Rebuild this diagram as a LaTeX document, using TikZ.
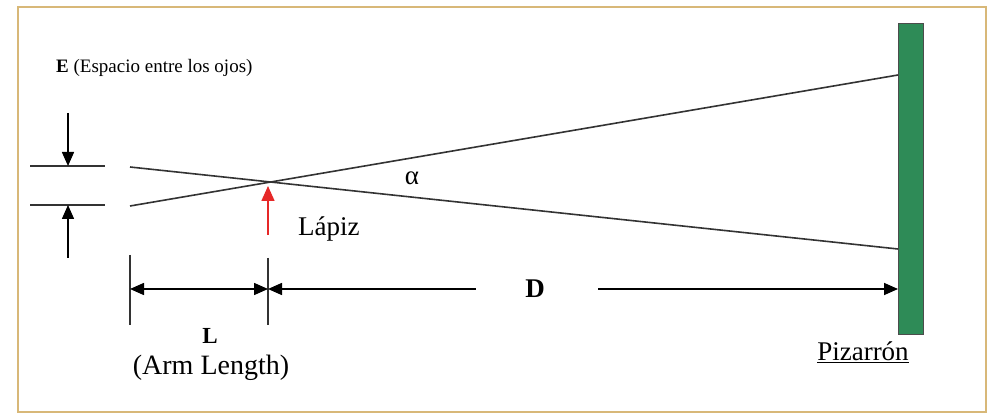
\documentclass[tikz,border=0pt]{standalone}
\usepackage{fontspec}
\setmainfont{Liberation Serif}
\usetikzlibrary{arrows.meta}
\definecolor{frame}{HTML}{D8B878}
\definecolor{board}{HTML}{2E8B57}
\definecolor{ink}{HTML}{333333}
\newcommand{\fs}[1]{\fontsize{#1}{#1}\selectfont}
\tikzset{
  x=1pt,y=-1pt,
  ray/.style={draw=ink, line width=1.6pt},
  dim/.style={draw=black, line width=1.6pt},
  tick/.style={draw=ink, line width=1.3pt},
  tip/.style={-{Triangle[length=14pt,width=12pt]}},
  lbl/.style={inner sep=0pt},
}
\begin{document}
\begin{tikzpicture}
\useasboundingbox (0,0) rectangle (994,414);
\fill[white] (0,0) rectangle (994,414);
\draw[frame, line width=2pt, fill=white] (18,7) rectangle (986,412);

% board
\node[draw=black!70, fill=board, line width=1pt, minimum width=25pt, minimum height=311pt, inner sep=0pt, anchor=north west] (board) at (898,23) {};

% rays
\coordinate (t0) at (130,167);
\coordinate (t1) at (898,75);
\coordinate (b0) at (130,206);
\coordinate (b1) at (898,249);
\draw[ray] (t0) -- (b1);
\draw[ray] (b0) -- (t1);

% eye ticks
\coordinate (e1a) at (30,166); \coordinate (e1b) at (105,166);
\coordinate (e2a) at (30,205); \coordinate (e2b) at (105,205);
\draw[tick] (e1a) -- (e1b);
\draw[tick] (e2a) -- (e2b);
\coordinate (ea0) at (68,113); \coordinate (eb0) at (68,258);
\draw[dim, tip] (ea0) -- (68,166);
\draw[dim, tip] (eb0) -- (68,205);

% pencil
\coordinate (p0) at (268,235);
\coordinate (p1) at (268,186);
\draw[draw={rgb,255:red,230;green,40;blue,40}, line width=1.6pt, -{Triangle[length=15pt,width=13pt]}] (p0) -- (p1);

% labels
\node[lbl, anchor=west, font=\fs{27}] (lapiz) at (298,229) {Lápiz};
\node[lbl, font=\fs{27}] (alpha) at (412,178) {α};
\node[lbl, anchor=west, font=\fs{19}] (E) at (56,68) {\textbf{E} (Espacio entre los ojos)};

% dimension lines
\coordinate (l0t) at (130,255); \coordinate (l0b) at (130,325);
\coordinate (l1t) at (268,258); \coordinate (l1b) at (268,325);
\draw[tick] (l0t) -- (l0b);
\draw[tick] (l1t) -- (l1b);
\coordinate (dl0) at (130,289);
\coordinate (dl1) at (268,289);
\draw[dim, {Triangle[length=14pt,width=12pt]}-{Triangle[length=14pt,width=12pt]}] (dl0) -- (dl1);
\node[lbl, font=\fs{27}\bfseries] (D) at (535,289) {D};
\coordinate (d0) at (476,289);
\coordinate (d1) at (598,289);
\draw[dim, {Triangle[length=14pt,width=12pt]}-] (dl1) -- (d0);
\draw[dim, tip] (d1) -- (board.west |- d1);

\node[lbl, font=\fs{23}\bfseries] (L) at (210,336) {L};
\node[lbl, font=\fs{28}] (arm) at (211,368) {(Arm Length)};
\node[lbl, font=\fs{27}] (piz) at (863,352) {\underline{Pizarrón}};
\end{tikzpicture}
\end{document}
